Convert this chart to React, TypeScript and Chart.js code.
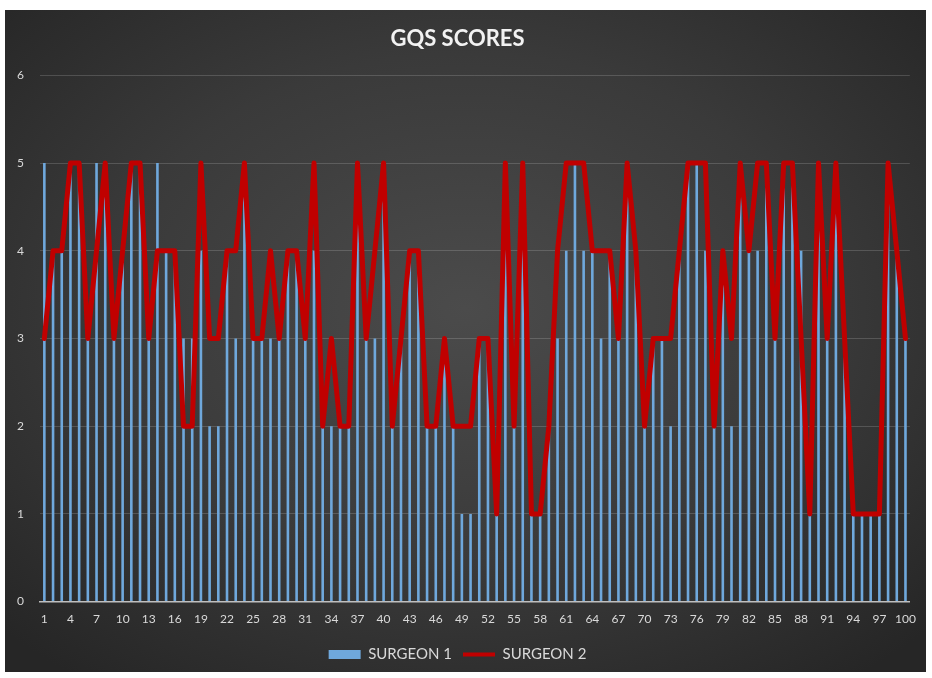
import React, { useEffect, useRef } from "react";
import { Chart, registerables } from "chart.js";

Chart.register(...registerables);

const categories = [
  "1","2","3","4","5","6","7","8","9","10",
  "11","12","13","14","15","16","17","18","19","20",
  "21","22","23","24","25","26","27","28","29","30",
  "31","32","33","34","35","36","37","38","39","40",
  "41","42","43","44","45","46","47","48","49","50",
  "51","52","53","54","55","56","57","58","59","60",
  "61","62","63","64","65","66","67","68","69","70",
  "71","72","73","74","75","76","77","78","79","80",
  "81","82","83","84","85","86","87","88","89","90",
  "91","92","93","94","95","96","97","98","99","100",
];

const surgeon1 = [
  5, 4, 4, 5, 5, 3, 5, 5, 3, 4,
  5, 5, 3, 5, 4, 4, 3, 3, 4, 2,
  2, 4, 3, 5, 3, 3, 3, 3, 4, 4,
  3, 4, 2, 2, 2, 2, 5, 3, 3, 5,
  2, 3, 4, 4, 2, 2, 3, 2, 1, 1,
  3, 3, 1, 5, 2, 5, 1, 1, 2, 3,
  4, 5, 4, 4, 3, 4, 3, 5, 4, 2,
  3, 3, 2, 4, 5, 5, 4, 2, 4, 2,
  5, 4, 4, 5, 3, 5, 5, 4, 1, 5,
  3, 5, 3, 1, 1, 1, 1, 5, 4, 3,
];

const surgeon2 = [
  3, 4, 4, 5, 5, 3, 4, 5, 3, 4,
  5, 5, 3, 4, 4, 4, 2, 2, 5, 3,
  3, 4, 4, 5, 3, 3, 4, 3, 4, 4,
  3, 5, 2, 3, 2, 2, 5, 3, 4, 5,
  2, 3, 4, 4, 2, 2, 3, 2, 2, 2,
  3, 3, 1, 5, 2, 5, 1, 1, 2, 4,
  5, 5, 5, 4, 4, 4, 3, 5, 4, 2,
  3, 3, 3, 4, 5, 5, 5, 2, 4, 3,
  5, 4, 5, 5, 3, 5, 5, 3, 1, 5,
  3, 5, 3, 1, 1, 1, 1, 5, 4, 3,
];

const seriesNames = ["SURGEON 1", "SURGEON 2"];
const yTicks = [0, 1, 2, 3, 4, 5, 6];
const titleText = "GQS SCORES";

const BLUE = "#6fa8dc";
const RED = "#c00000";
const TEXT = "#d9d9d9";

export default function App() {
  const ref = useRef<HTMLCanvasElement | null>(null);

  useEffect(() => {
    if (!ref.current) return;
    Chart.defaults.font.family = "Lato, 'Open Sans', 'Liberation Sans', sans-serif";
    const chart = new Chart(ref.current, {
      data: {
        labels: categories,
        datasets: [
          {
            type: "bar",
            label: seriesNames[0],
            data: surgeon1,
            backgroundColor: BLUE,
            borderWidth: 0,
            barPercentage: 0.3,
            categoryPercentage: 1,
            order: 2,
          },
          {
            type: "line",
            label: seriesNames[1],
            data: surgeon2,
            borderColor: RED,
            backgroundColor: RED,
            borderWidth: 5,
            pointRadius: 0,
            tension: 0,
            borderJoinStyle: "round",
            borderCapStyle: "round",
            order: 1,
          },
        ],
      },
      options: {
        responsive: false,
        animation: false,
        layout: { padding: { left: 0, right: 16, top: 0, bottom: 0 } },
        plugins: {
          title: {
            display: true,
            text: titleText,
            color: "#f2f2f2",
            font: { size: 22, weight: "bold" },
            padding: { top: 16, bottom: 23 },
          },
          legend: {
            position: "bottom",
            labels: {
              usePointStyle: true,
              pointStyleWidth: 32,
              boxHeight: 9,
              color: TEXT,
              font: { size: 15 },
              padding: 11,
              generateLabels: () => [
                {
                  text: seriesNames[0],
                  fillStyle: BLUE,
                  strokeStyle: BLUE,
                  lineWidth: 0,
                  pointStyle: "rect",
                  fontColor: TEXT,
                  datasetIndex: 0,
                  hidden: false,
                },
                {
                  text: seriesNames[1],
                  fillStyle: RED,
                  strokeStyle: RED,
                  lineWidth: 4,
                  pointStyle: "line",
                  fontColor: TEXT,
                  datasetIndex: 1,
                  hidden: false,
                },
              ],
            },
          },
          tooltip: { enabled: false },
        },
        scales: {
          x: {
            grid: { display: false, drawTicks: false },
            border: { display: true, color: "#bfbfbf", width: 1.5 },
            ticks: {
              color: TEXT,
              font: { size: 12 },
              autoSkip: false,
              maxRotation: 0,
              padding: 10,
              callback: (_v: any, idx: number) => (idx % 3 === 0 ? categories[idx] : ""),
            },
          },
          y: {
            min: yTicks[0],
            max: yTicks[yTicks.length - 1],
            afterFit: (s: any) => {
              s.width = 35;
            },
            grid: { color: "rgba(255,255,255,0.16)", drawTicks: false, lineWidth: 1 },
            border: { display: false },
            ticks: {
              stepSize: 1,
              color: TEXT,
              font: { size: 12 },
              padding: 16,
            },
          },
        },
      },
    });
    return () => chart.destroy();
  }, []);

  return (
    <div
      style={{
        position: "absolute",
        left: 5,
        top: 10,
        width: 921,
        height: 662,
        background:
          "radial-gradient(ellipse 70% 70% at 50% 45%, #4b4b4b 0%, #3a3a3a 55%, #262626 100%)",
      }}
    >
      <canvas ref={ref} width={921} height={662} />
    </div>
  );
}
